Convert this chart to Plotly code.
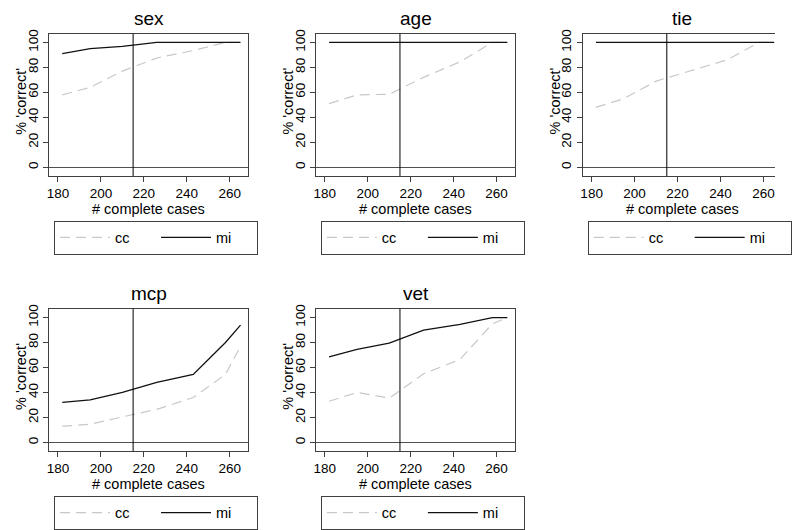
import plotly.graph_objects as go

# ---- data ----
complete_cases = [182, 195, 210, 226, 243, 258, 265]
panels = ["sex", "age", "tie", "mcp", "vet"]
cc_sex = [58, 64, 77, 87.5, 93.5, 100, 100]
mi_sex = [91, 95, 96.8, 100, 100, 100, 100]
cc_age = [51, 58, 58.5, 72, 84.5, 100, 100]
mi_age = [100, 100, 100, 100, 100, 100, 100]
cc_tie = [48, 55, 69, 77, 86, 100, 100]
mi_tie = [100, 100, 100, 100, 100, 100, 100]
cc_mcp = [13, 14.5, 20.5, 26.5, 36, 54.5, 77]
mi_mcp = [32, 34, 40, 48, 54.5, 80, 94]
cc_vet = [33, 40, 35.5, 55, 66.5, 95, 100]
mi_vet = [68.5, 74.5, 79.5, 90, 94.5, 100, 100]
actual_cc = 215
x_ticks = [180, 200, 220, 240, 260]
y_ticks = [0, 20, 40, 60, 80, 100]

series = {
    "sex": (cc_sex, mi_sex),
    "age": (cc_age, mi_age),
    "tie": (cc_tie, mi_tie),
    "mcp": (cc_mcp, mi_mcp),
    "vet": (cc_vet, mi_vet),
}

W, H = 792, 530
FONT = "Arial, Liberation Sans, sans-serif"
AX = "#404040"

# panel pixel geometry
box_left = [48.3, 321.7, 595.1]
box_w = 204.0
row_top = [30.0, 308.3]
box_h = 144.0
x_lo, x_hi = 175.9, 268.6
px_per_unit = box_w / (x_hi - x_lo)

fig = go.Figure()
layout = dict(
    width=W, height=H, margin=dict(l=0, r=0, t=0, b=0),
    paper_bgcolor="white", plot_bgcolor="white",
    font=dict(family=FONT, color="#000", size=14),
    showlegend=True,
)
annotations = []
shapes = []

for i, name in enumerate(panels):
    r, c = divmod(i, 3)
    n = "" if i == 0 else str(i + 1)
    xa, ya = "x" + n, "y" + n
    lg = "legend" + n
    L = box_left[c]
    T = row_top[r]
    R = min(L + box_w, W)
    xr = [x_lo, x_lo + (R - L) / px_per_unit]
    xdom = [L / W, R / W]
    ydom = [1 - (T + box_h) / H, 1 - T / H]
    cc, mi = series[name]
    fig.add_trace(go.Scatter(
        x=complete_cases, y=cc, mode="lines", name="cc",
        line=dict(color="#c8c8c8", width=1.2, dash="10px,6px"),
        xaxis=xa, yaxis=ya, legend=lg, hoverinfo="skip", cliponaxis=False))
    fig.add_trace(go.Scatter(
        x=complete_cases, y=mi, mode="lines", name="mi",
        line=dict(color="#111111", width=1.3),
        xaxis=xa, yaxis=ya, legend=lg, hoverinfo="skip", cliponaxis=False))
    layout["xaxis" + n] = dict(
        domain=xdom, anchor=ya, range=xr,
        tickvals=x_ticks, ticks="outside", ticklen=5, tickcolor=AX,
        showline=True, linecolor=AX, linewidth=1, mirror=True,
        showgrid=False, zeroline=False,
        tickfont=dict(size=13.5, family=FONT, color="#000"),
    )
    layout["yaxis" + n] = dict(
        domain=ydom, anchor=xa, range=[-7, 107],
        tickvals=y_ticks, ticks="outside", ticklen=5, tickcolor=AX,
        tickangle=-90,
        showline=True, linecolor=AX, linewidth=1, mirror=(R - L >= box_w),
        showgrid=False, zeroline=True, zerolinecolor="#505050", zerolinewidth=1,
        tickfont=dict(size=13.5, family=FONT, color="#000"),
    )
    layout[lg] = dict(
        orientation="h", x=(L + 5) / W, y=1 - (T + 189) / H,
        xanchor="left", yanchor="top",
        bgcolor="white", bordercolor=AX, borderwidth=1,
        font=dict(size=14.5, family=FONT), itemwidth=50,
        entrywidth=36, entrywidthmode="pixels", traceorder="normal",
    )
    # title
    annotations.append(dict(
        text=name, xref="paper", yref="paper",
        x=(L + box_w / 2) / W, y=1 - (T - 15) / H,
        xanchor="center", yanchor="middle", showarrow=False,
        font=dict(size=19, family=FONT, color="#000")))
    # x axis title
    annotations.append(dict(
        text="# complete cases", xref="paper", yref="paper",
        x=(L + box_w / 2) / W, y=1 - (T + 177) / H,
        xanchor="center", yanchor="middle", showarrow=False,
        font=dict(size=14.5, family=FONT, color="#000")))
    # y axis title
    annotations.append(dict(
        text="% 'correct'", xref="paper", yref="paper",
        x=(L - 29) / W, y=1 - (T + 68) / H, textangle=-90,
        xanchor="center", yanchor="middle", showarrow=False,
        font=dict(size=14.5, family=FONT, color="#000")))
    shapes.append(dict(
        type="line", xref=xa, yref=ya + " domain",
        x0=actual_cc, x1=actual_cc, y0=0, y1=1,
        line=dict(color="#000", width=1)))

layout["annotations"] = annotations
layout["shapes"] = shapes
fig.update_layout(**layout)

fig.write_html("out.html")
